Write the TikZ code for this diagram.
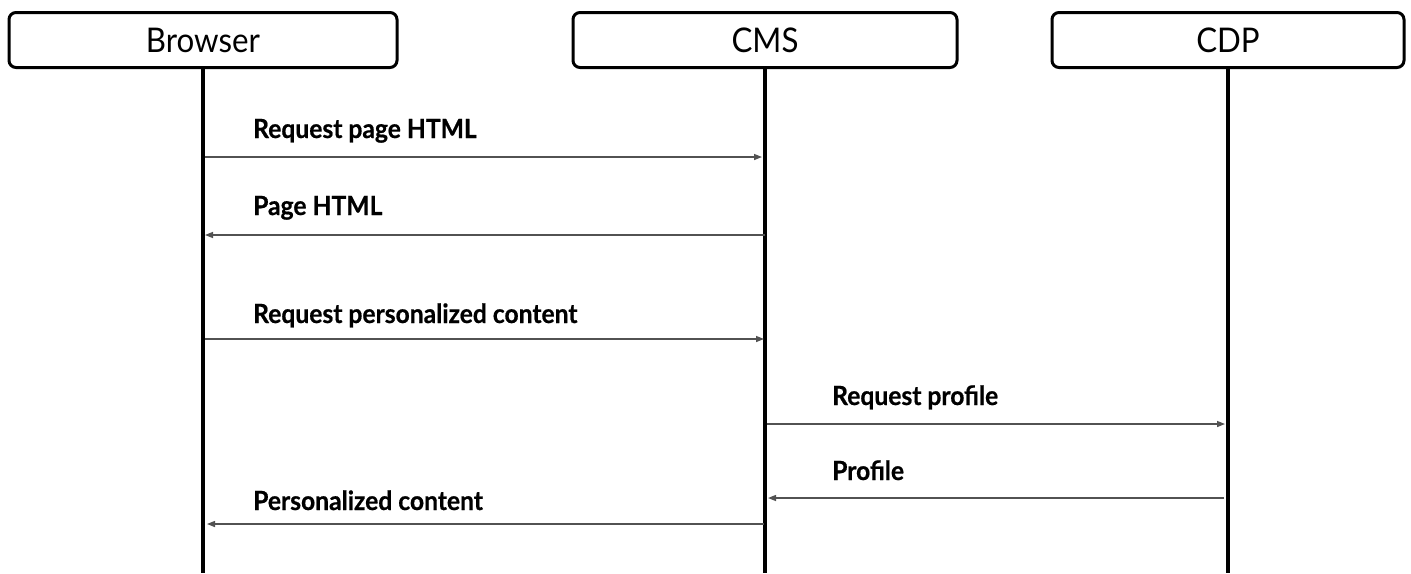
\documentclass[tikz,border=0pt]{standalone}
\usepackage{fontspec}
\setmainfont{Lato}
\newfontfamily\headfont[FakeStretch=0.92]{Lato}
\newfontfamily\lblfont[FakeStretch=0.93,FakeBold=0.6]{Lato Bold}
\usetikzlibrary{arrows.meta}
\begin{document}
\begin{tikzpicture}[x=1pt,y=-1pt,
  actor/.style={draw=black,line width=3pt,rounded corners=7pt,fill=white,minimum height=55pt,font=\headfont\fontsize{34}{38}\selectfont,inner sep=0pt},
  life/.style={line width=3.8pt,black},
  msg/.style={draw=black!68,line width=1.4pt,-{Triangle[length=8pt,width=6pt]}},
  lbl/.style={anchor=base west,font=\lblfont\fontsize{26.5}{30}\selectfont,inner sep=0pt}]
\useasboundingbox (0,0) rectangle (1411,573);
\node[actor,minimum width=388pt] (browser) at (203,40) {Browser};
\node[actor,minimum width=384pt] (cms) at (765,40) {CMS};
\node[actor,minimum width=352pt] (cdp) at (1228,40) {CDP};
\coordinate (bEnd) at (203,573);
\coordinate (mEnd) at (765,573);
\coordinate (dEnd) at (1228,573);
\draw[life] (browser.south) -- (bEnd);
\draw[life] (cms.south) -- (mEnd);
\draw[life] (cdp.south) -- (dEnd);
% messages
\coordinate (b1) at (205,157); \coordinate (m1) at (762,157);
\coordinate (m2) at (765,235); \coordinate (b2) at (205,235);
\coordinate (b3) at (205,339); \coordinate (m3) at (764,339);
\coordinate (m4) at (767,424); \coordinate (d4) at (1225,424);
\coordinate (d5) at (1224,498); \coordinate (m5) at (768,498);
\coordinate (m6) at (764,524); \coordinate (b6) at (207,524);
\draw[msg] (b1) -- (m1);
\draw[msg] (m2) -- (b2);
\draw[msg] (b3) -- (m3);
\draw[msg] (m4) -- (d4);
\draw[msg] (d5) -- (m5);
\draw[msg] (m6) -- (b6);
\node[lbl] (l1) at (253,138) {Request page HTML};
\node[lbl] (l2) at (253,215) {Page HTML};
\node[lbl] (l3) at (253,323) {Request personalized content};
\node[lbl] (l4) at (832,405) {Request profile};
\node[lbl] (l5) at (832,480) {Profile};
\node[lbl] (l6) at (253,510) {Personalized content};
\end{tikzpicture}
\end{document}
